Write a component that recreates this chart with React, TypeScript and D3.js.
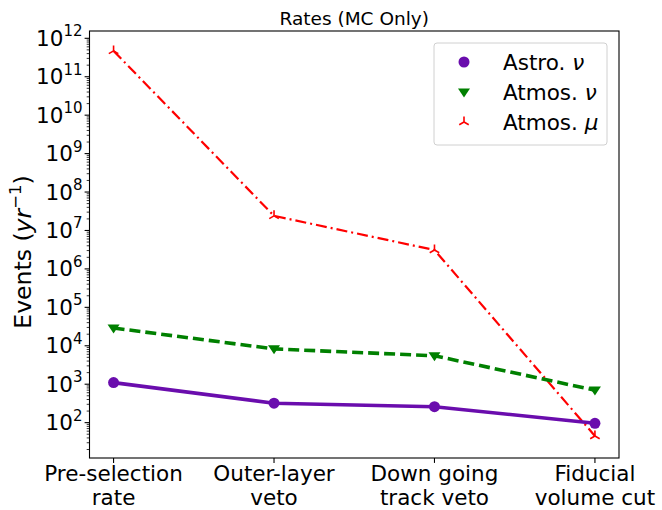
import * as d3 from "d3";
import { useEffect, useRef } from "react";

const categories = ["Pre-selection\nrate", "Outer-layer\nveto", "Down going\ntrack veto", "Fiducial\nvolume cut"];
const astroNu = [1100, 320, 260, 96];
const atmosNu = [29000, 8300, 5500, 700];
const atmosMu = [4.7e11, 2.4e7, 3.1e6, 45];
const yTicks = [2, 3, 4, 5, 6, 7, 8, 9, 10, 11, 12];

const App = () => {
    const svgRef = useRef<SVGSVGElement | null>(null);

    useEffect(() => {
        if (!svgRef.current) return;
        const width = 662;
        const height = 510;
        const left = 89.5, right = 619, top = 31, bottom = 458;
        const font = "DejaVu Sans, sans-serif";
        const fs = 21.5;

        const svg = d3.select(svgRef.current)
            .attr("width", width)
            .attr("height", height)
            .style("background", "#fff");
        svg.selectAll("*").remove();

        const x = d3.scaleLinear().domain([-0.15, 3.15]).range([left, right]);
        const y = d3.scaleLog().domain([Math.pow(10, 1.08), Math.pow(10, 12.19)]).range([bottom, top]);

        // minor ticks
        const g = svg.append("g");
        for (let e = 1; e <= 12; e++) {
            for (let m = 2; m <= 9; m++) {
                const v = m * Math.pow(10, e);
                const yy = y(v);
                if (yy < top || yy > bottom) continue;
                g.append("line").attr("x1", left).attr("x2", left - 2.8)
                    .attr("y1", yy).attr("y2", yy).attr("stroke", "#000").attr("stroke-width", 0.8);
            }
        }
        yTicks.forEach(e => {
            const yy = y(Math.pow(10, e));
            g.append("line").attr("x1", left).attr("x2", left - 4.9)
                .attr("y1", yy).attr("y2", yy).attr("stroke", "#000").attr("stroke-width", 1.1);
            const t = g.append("text").attr("x", left - 7).attr("y", yy + 7.5)
                .attr("text-anchor", "end").attr("font-family", font).attr("fill", "#000");
            t.append("tspan").attr("font-size", fs).text("10");
            t.append("tspan").attr("font-size", 15).attr("dy", -9.5).text(String(e));
        });

        categories.forEach((c, i) => {
            const xx = x(i);
            g.append("line").attr("x1", xx).attr("x2", xx).attr("y1", bottom).attr("y2", bottom + 4.9)
                .attr("stroke", "#000").attr("stroke-width", 1.1);
            c.split("\n").forEach((line, j) => {
                g.append("text").attr("x", xx).attr("y", 481 + j * 24)
                    .attr("text-anchor", "middle").attr("font-family", font).attr("font-size", fs)
                    .attr("fill", "#000").text(line);
            });
        });

        const series = [
            { data: atmosMu, color: "#ff0000", dash: "11,4,2,4", width: 2.2, marker: "tri" },
            { data: atmosNu, color: "#008000", dash: "11,5", width: 3.6, marker: "tri_down" },
            { data: astroNu, color: "#6a0dad", dash: null, width: 3.6, marker: "circle" },
        ];

        const line = d3.line<number>().x((_, i) => x(i)).y(d => y(d));

        const drawMarker = (sel: any, kind: string, cx: number, cy: number, color: string) => {
            if (kind === "circle") {
                sel.append("circle").attr("cx", cx).attr("cy", cy).attr("r", 5.5).attr("fill", color);
            } else if (kind === "tri_down") {
                const r = 6;
                sel.append("path")
                    .attr("d", `M${cx - r},${cy - r * 0.6}L${cx + r},${cy - r * 0.6}L${cx},${cy + r * 0.9}Z`)
                    .attr("fill", color);
            } else {
                const r = 5.5;
                sel.append("path")
                    .attr("d", `M${cx},${cy}L${cx},${cy - r}M${cx},${cy}L${cx - 0.866 * r},${cy + 0.5 * r}M${cx},${cy}L${cx + 0.866 * r},${cy + 0.5 * r}`)
                    .attr("stroke", color).attr("stroke-width", 1.6).attr("fill", "none");
            }
        };

        const plot = svg.append("g");
        series.forEach(s => {
            plot.append("path").datum(s.data)
                .attr("fill", "none").attr("stroke", s.color).attr("stroke-width", s.width)
                .attr("stroke-dasharray", s.dash).attr("d", line);
            s.data.forEach((v, i) => drawMarker(plot, s.marker, x(i), y(v), s.color));
        });

        // frame
        svg.append("rect").attr("x", left).attr("y", top).attr("width", right - left).attr("height", bottom - top)
            .attr("fill", "none").attr("stroke", "#000").attr("stroke-width", 1.1);

        // title and label
        svg.append("text").attr("x", (left + right) / 2).attr("y", 24.5).attr("text-anchor", "middle")
            .attr("font-family", font).attr("font-size", 18.5).text("Rates (MC Only)");
        const yl = svg.append("text").attr("transform", `translate(31,252) rotate(-90)`)
            .attr("text-anchor", "middle").attr("font-family", font).attr("font-size", 23.5);
        yl.append("tspan").text("Events (");
        yl.append("tspan").attr("font-style", "italic").text("yr");
        yl.append("tspan").attr("font-size", 16.5).attr("dy", -10).text("−1");
        yl.append("tspan").attr("dy", 10).text(")");

        // legend
        const lg = svg.append("g");
        lg.append("rect").attr("x", 434).attr("y", 43).attr("width", 173).attr("height", 102).attr("rx", 3)
            .attr("fill", "#fff").attr("fill-opacity", 0.8).attr("stroke", "#d0d0d0");
        const entries = [
            { label: "Astro. ", sym: "ν", color: "#6a0dad", marker: "circle" },
            { label: "Atmos. ", sym: "ν", color: "#008000", marker: "tri_down" },
            { label: "Atmos. ", sym: "μ", color: "#ff0000", marker: "tri" },
        ];
        entries.forEach((e, i) => {
            const cy = 62 + i * 30;
            drawMarker(lg, e.marker, 464, cy, e.color);
            const t = lg.append("text").attr("x", 503).attr("y", cy + 7.5)
                .attr("font-family", font).attr("font-size", fs);
            t.append("tspan").text(e.label);
            t.append("tspan").attr("font-style", "italic").text(e.sym);
        });
    }, []);

    return <svg ref={svgRef} style={{ position: "absolute", left: 0, top: 0 }}></svg>;
};

export default App;
